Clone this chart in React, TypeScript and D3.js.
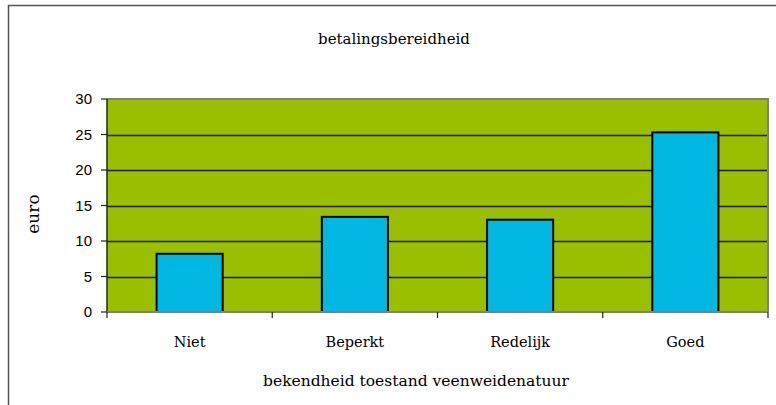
import React, { useEffect, useRef } from "react";
import * as d3 from "d3";

const categories = ["Niet", "Beperkt", "Redelijk", "Goed"];
const values = [8.2, 13.4, 13.0, 25.3];
const yTicks = [0, 5, 10, 15, 20, 25, 30];
const title = "betalingsbereidheid";
const xTitle = "bekendheid toestand veenweidenatuur";
const yTitle = "euro";

export default function App() {
  const ref = useRef<SVGSVGElement>(null);
  useEffect(() => {
    const svg = d3.select(ref.current);
    svg.selectAll("*").remove();
    const W = 776, H = 405;
    const left = 107, right = 768, top = 99, bottom = 312;
    const serif = "'DejaVu Serif', serif";
    const sans = "'Liberation Sans', Arial, sans-serif";

    svg.append("rect").attr("x", 0).attr("y", 0).attr("width", W).attr("height", H).attr("fill", "#fff");
    // frame
    svg.append("path").attr("d", `M8.5,${H + 2}V5.5H${W + 2}`).attr("fill", "none").attr("stroke", "#555").attr("stroke-width", 1.5);

    const x = d3.scaleBand<string>().domain(categories).range([left, right]).paddingInner(0.6).paddingOuter(0.3);
    const y = d3.scaleLinear().domain([0, 30]).range([bottom, top]);

    svg.append("rect").attr("x", left).attr("y", top).attr("width", right - left).attr("height", bottom - top).attr("fill", "#99BF00");

    // gridlines
    svg.append("g").selectAll("line").data(yTicks.filter(t => t > 0 && t < 30)).join("line")
      .attr("x1", left).attr("x2", right).attr("y1", d => Math.round(y(d)) + 0.5).attr("y2", d => Math.round(y(d)) + 0.5)
      .attr("stroke", "#1a1a00").attr("stroke-width", 1.5);

    // plot border top/right
    svg.append("path").attr("d", `M${left},${top}H${right}V${bottom}`).attr("fill", "none").attr("stroke", "#808080").attr("stroke-width", 2);

    // bars
    svg.append("g").selectAll("rect").data(values).join("rect")
      .attr("x", (d, i) => x(categories[i])!)
      .attr("width", x.bandwidth())
      .attr("y", d => y(d))
      .attr("height", d => y(0) - y(d))
      .attr("fill", "#00B8E2").attr("stroke", "#000").attr("stroke-width", 2);

    // y axis
    svg.append("line").attr("x1", left).attr("x2", left).attr("y1", top).attr("y2", bottom).attr("stroke", "#222").attr("stroke-width", 1.5);
    const yg = svg.append("g");
    yg.selectAll("line").data(yTicks).join("line")
      .attr("x1", left - 6).attr("x2", left).attr("y1", d => y(d)).attr("y2", d => y(d)).attr("stroke", "#222").attr("stroke-width", 1.2);
    yg.selectAll("text").data(yTicks).join("text")
      .attr("x", 92).attr("y", d => y(d)).attr("dy", "0.35em").attr("text-anchor", "end")
      .attr("font-family", sans).attr("font-size", 15).attr("fill", "#000").text(d => d);

    // x axis
    svg.append("line").attr("x1", left).attr("x2", right).attr("y1", bottom).attr("y2", bottom).attr("stroke", "#808080").attr("stroke-width", 2);
    const bounds = [0, 1, 2, 3, 4].map(i => left + i * x.step());
    svg.append("g").selectAll("line").data(bounds).join("line")
      .attr("x1", d => d).attr("x2", d => d).attr("y1", bottom).attr("y2", bottom + 6).attr("stroke", "#222").attr("stroke-width", 1.2);
    svg.append("g").selectAll("text").data(categories).join("text")
      .attr("x", d => x(d)! + x.bandwidth() / 2).attr("y", 347).attr("text-anchor", "middle")
      .attr("font-family", serif).attr("font-size", 14.5).attr("fill", "#000").text(d => d);

    svg.append("text").attr("x", 394).attr("y", 44).attr("text-anchor", "middle")
      .attr("font-family", serif).attr("font-size", 15).attr("fill", "#000").text(title);
    svg.append("text").attr("x", 416).attr("y", 386).attr("text-anchor", "middle")
      .attr("font-family", serif).attr("font-size", 15.5).attr("fill", "#000").text(xTitle);
    svg.append("text").attr("transform", "translate(39,214) rotate(-90)").attr("text-anchor", "middle")
      .attr("font-family", serif).attr("font-size", 17).attr("fill", "#000").text(yTitle);
  }, []);
  return (
    <svg ref={ref} width={776} height={405} style={{ position: "absolute", left: 0, top: 0, display: "block" }} />
  );
}
